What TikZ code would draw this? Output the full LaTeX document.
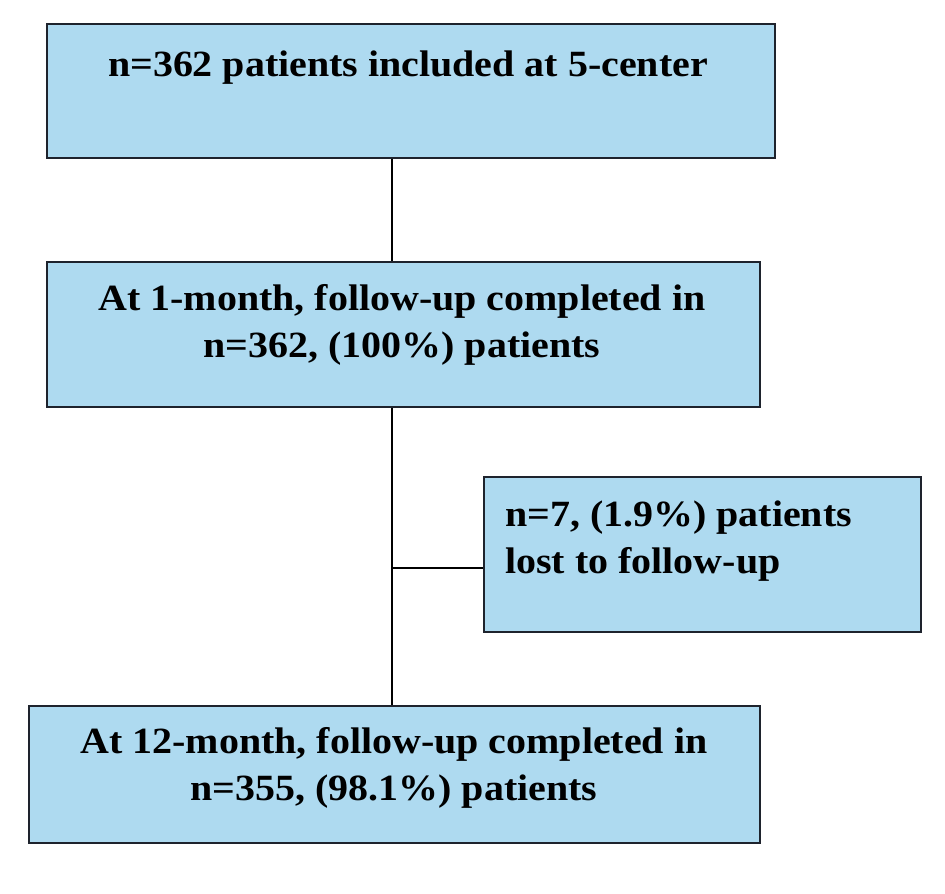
\documentclass[tikz,border=0pt]{standalone}
\usepackage{fontspec}
\setmainfont[FakeStretch=1.08]{Liberation Serif}
\usepackage{tikz}
\usetikzlibrary{positioning}
\definecolor{boxblue}{RGB}{174,218,240}
\definecolor{boxline}{RGB}{30,35,45}

\begin{document}
\begin{tikzpicture}[x=1pt,y=-1pt,
  box/.style={draw=boxline,fill=boxblue,line width=1.6pt,rectangle,inner sep=0pt},
  txt/.style={inner sep=0pt,font=\fontsize{37}{47}\selectfont\bfseries},
  link/.style={draw=black,line width=1.6pt}]
\useasboundingbox (0,0) rectangle (945,894);
% boxes
\node[box,minimum width=728pt,minimum height=134pt] (included) at (411,91) {};
\node[box,minimum width=713pt,minimum height=145pt] (month1) at (403.5,334.5) {};
\node[box,minimum width=437pt,minimum height=155pt] (lost) at (702.5,554.5) {};
\node[box,minimum width=731pt,minimum height=137pt] (month12) at (394.5,774.5) {};
% texts
\node[txt] (includedtxt) at (408,68) {n=362 patients included at 5-center};
\node[txt,align=center] (month1txt) at (402,325) {At 1-month, follow-up completed in\\n=362, (100\%) patients};
\node[txt,align=left,anchor=west] (losttxt) at (505,541) {n=7, (1.9\%) patients\\lost to follow-up};
\node[txt,align=center] (month12txt) at (394,768) {At 12-month, follow-up completed in\\n=355, (98.1\%) patients};
% connectors
\coordinate (split) at (392,568);
\draw[link] (included.south -| split) -- (month1.north -| split);
\draw[link] (month1.south -| split) -- (month12.north -| split);
\draw[link] (split) -- (lost.west |- split);
\end{tikzpicture}
\end{document}
